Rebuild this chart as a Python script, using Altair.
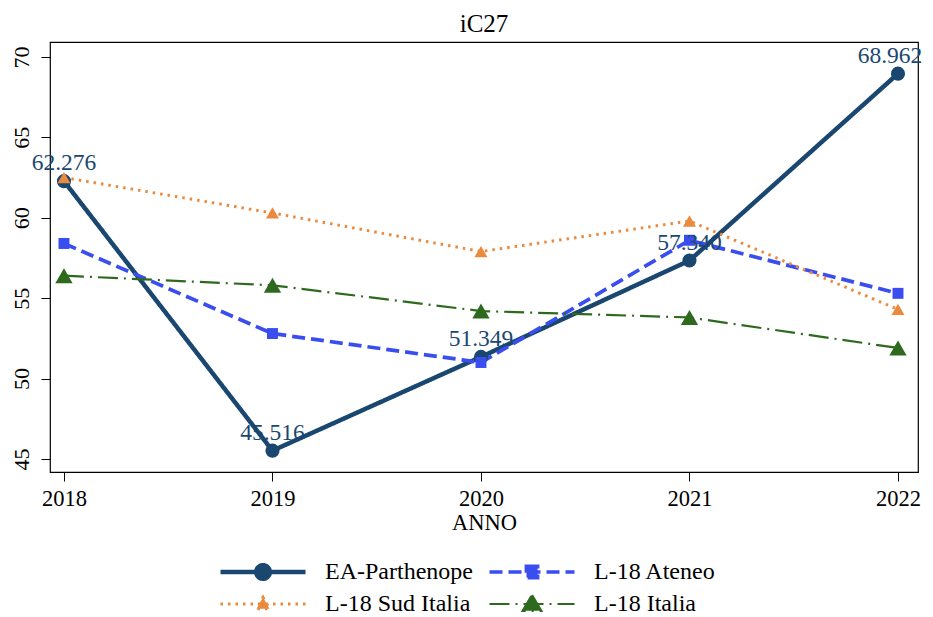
import altair as alt
import pandas as pd

years = [2018, 2019, 2020, 2021, 2022]
series_names = ["EA-Parthenope", "L-18 Ateneo", "L-18 Sud Italia", "L-18 Italia"]
ea = [62.276, 45.516, 51.349, 57.340, 68.962]
ateneo = [58.4, 52.8, 51.0, 58.6, 55.3]
sud = [62.5, 60.3, 57.9, 59.8, 54.3]
italia = [56.4, 55.8, 54.2, 53.8, 51.9]

colors = ["#1a476f", "#3a4ef0", "#ea8a3f", "#2e6a1e"]
dashes = [[1, 0], [13, 6], [2.5, 5], [20, 6, 2, 6]]
widths = [4.5, 2.2, 2.5, 2.2]
point_shapes = ["circle", "square", "triangle-up", "triangle-up"]
point_sizes = [200, 120, 170, 300]
legend_paths = [
    "M-1,0H1M0.16,0A0.16,0.16,0,1,1,-0.16,0A0.16,0.16,0,1,1,0.16,0Z",
    "M-1,0H1M-0.13,-0.13H0.13V0.13H-0.13Z",
    "M-1,0H1M0,-0.16L0.15,0.11L-0.15,0.11Z",
    "M-1,0H1M0,-0.21L0.22,0.16L-0.22,0.16Z",
]

rows = []
for name, vals in zip(series_names, [ea, ateneo, sud, italia]):
    for y, v in zip(years, vals):
        rows.append({"ANNO": y, "value": v, "series": name})
df = pd.DataFrame(rows)

FONT = "Liberation Serif"
x_enc = alt.X("ANNO:Q", scale=alt.Scale(domain=[2017.933, 2022.096], nice=False, zero=False),
              axis=alt.Axis(values=years, format="d", title="ANNO", grid=False, domain=False,
                            tickSize=9, tickColor="black", labelFontSize=22.5, labelFont=FONT,
                            labelColor="black", titleFont=FONT, titleFontSize=22.5,
                            titleFontWeight="normal", titleColor="black", labelPadding=6,
                            titlePadding=2))
y_enc = alt.Y("value:Q", scale=alt.Scale(domain=[44.19, 70.93], nice=False, zero=False),
              axis=alt.Axis(values=[45, 50, 55, 60, 65, 70], title=None, grid=False, domain=False,
                            tickSize=9, tickColor="black", labelFontSize=22, labelFont=FONT,
                            labelColor="black", labelAngle=270, labelAlign="center",
                            labelBaseline="bottom", labelPadding=8))

dom = series_names
color_scale = alt.Scale(domain=dom, range=colors)
dash_scale = alt.Scale(domain=dom, range=dashes)
width_scale = alt.Scale(domain=dom, range=widths)

leg = alt.Legend(title=None, orient="none", legendX=168, legendY=518, columns=2,
                 direction="horizontal", symbolSize=7225, clipHeight=24, padding=0,
                 labelFont=FONT, labelFontSize=24, labelColor="black", columnPadding=14,
                 rowPadding=8, labelOffset=17, symbolOpacity=1, labelLimit=300)

legend_layer = alt.Chart(df).transform_filter("datum.ANNO < 0").mark_point(filled=True).encode(
    x=x_enc, y=y_enc,
    fill=alt.Fill("series:N", scale=color_scale, legend=leg),
    stroke=alt.Stroke("series:N", scale=color_scale, legend=leg),
    strokeDash=alt.StrokeDash("series:N", scale=dash_scale, legend=leg),
    strokeWidth=alt.StrokeWidth("series:N", scale=width_scale, legend=leg),
    shape=alt.Shape("series:N", scale=alt.Scale(domain=dom, range=legend_paths), legend=leg),
)

lines = alt.Chart(df).mark_line(clip=True).encode(
    x="ANNO:Q", y="value:Q",
    stroke=alt.Stroke("series:N"),
    strokeDash=alt.StrokeDash("series:N"),
    strokeWidth=alt.StrokeWidth("series:N"),
    order="ANNO:Q",
)

point_layers = []
for name, shp, sz in zip(series_names, point_shapes, point_sizes):
    point_layers.append(
        alt.Chart(df).transform_filter(alt.datum.series == name).mark_point(
            shape=shp, size=sz, filled=True, opacity=1).encode(
            x="ANNO:Q", y="value:Q",
            fill=alt.Fill("series:N"),
        )
    )

ea_df = alt.Chart(df).transform_filter(alt.datum.series == "EA-Parthenope")
labels_main = ea_df.transform_filter(alt.datum.ANNO < 2022).mark_text(
    font=FONT, fontSize=23.5, color="#1a476f", baseline="bottom", dy=-6
).encode(x="ANNO:Q", y="value:Q", text=alt.Text("value:Q", format=".3f"))
labels_last = ea_df.transform_filter(alt.datum.ANNO >= 2022).mark_text(
    font=FONT, fontSize=23.5, color="#1a476f", baseline="bottom", dy=-6, dx=-8
).encode(x="ANNO:Q", y="value:Q", text=alt.Text("value:Q", format=".3f"))

chart = alt.layer(legend_layer, lines, *point_layers, labels_main, labels_last).properties(
    width=868, height=430,
    title=alt.TitleParams("iC27", font=FONT, fontSize=25, fontWeight="normal", color="black",
                          anchor="middle", offset=5),
    autosize=alt.AutoSizeParams(type="none"),
    padding={"left": 42, "top": 34, "right": 7, "bottom": 145},
).configure(background="white").configure_view(
    stroke="black", strokeWidth=1.2
).configure_legend(labelFont=FONT, labelFontSize=24, labelColor="black")

chart.save("out.html", embed_options={"renderer": "svg", "actions": False})
